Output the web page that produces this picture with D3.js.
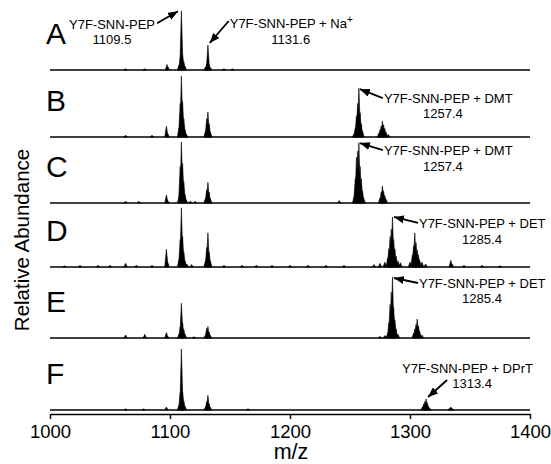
<!DOCTYPE html>
<html>
<head>
<meta charset="utf-8">
<script src="https://cdn.jsdelivr.net/npm/d3@7"></script>
<style>
  html, body { margin: 0; padding: 0; background: #fff; }
  svg { display: block; font-family: "Liberation Sans", Arial, Helvetica, sans-serif; }
</style>
</head>
<body>
<svg id="chart" width="551" height="464"></svg>
<script>
// ---- data -------------------------------------------------------------
const panelIds = ["A", "B", "C", "D", "E", "F"];
const xTicks = [1000, 1100, 1200, 1300, 1400];

// [m/z, relative intensity %] sticks for each spectrum
const peaksA = [
  [1063, 2], [1079, 2], [1097.5, 9], [1098.5, 4],
  [1107.5, 8], [1108.5, 20], [1109.5, 97], [1110.5, 24], [1111.5, 14], [1112.5, 6],
  [1129.6, 5], [1130.6, 10], [1131.6, 41], [1132.6, 9], [1133.6, 4],
  [1145, 2], [1152, 2]
];
const peaksB = [
  [1063, 3], [1085, 3], [1097, 18], [1098, 6],
  [1107.5, 15], [1108.5, 55], [1109.5, 100], [1110.5, 58], [1111.5, 30], [1112.5, 12], [1113.5, 5],
  [1129.6, 10], [1130.6, 30], [1131.6, 41], [1132.6, 22], [1133.6, 8],
  [1253.4, 5], [1254.4, 15], [1255.4, 35], [1256.4, 55], [1257.4, 80], [1258.4, 40], [1259.4, 22], [1260.4, 10],
  [1274, 6], [1275, 12], [1276, 18], [1277, 26], [1278, 20], [1279, 14], [1280, 8], [1282, 4]
];
const peaksC = [
  [1063, 3], [1074, 3], [1097, 13], [1098, 4],
  [1107.5, 10], [1108.5, 60], [1109.5, 100], [1110.5, 65], [1111.5, 35], [1112.5, 14], [1113.5, 5],
  [1117, 3], [1121, 3],
  [1129.6, 8], [1130.6, 22], [1131.6, 34], [1132.6, 18], [1133.6, 7],
  [1241, 4],
  [1253.4, 10], [1254.4, 40], [1255.4, 75], [1256.4, 85], [1257.4, 99], [1258.4, 60], [1259.4, 40], [1260.4, 20], [1261.4, 8],
  [1275, 8], [1276, 18], [1277, 28], [1278, 20], [1279, 12], [1280, 6]
];
const peaksD = [
  [1012, 2], [1025, 3], [1040, 3], [1050, 3], [1063, 6], [1072, 3], [1085, 3],
  [1097, 29], [1098, 8],
  [1107.5, 12], [1108.5, 45], [1109.5, 97], [1110.5, 50], [1111.5, 25], [1112.5, 10], [1114, 5], [1118, 4],
  [1129.6, 10], [1130.6, 32], [1131.6, 56], [1132.6, 25], [1133.6, 10],
  [1145, 3], [1160, 3], [1172, 3], [1185, 3], [1200, 3], [1215, 3], [1230, 3], [1245, 3],
  [1270, 4], [1275, 6], [1279, 8],
  [1281.4, 15], [1282.4, 30], [1283.4, 50], [1284.4, 62], [1285.4, 82], [1286.4, 45], [1287.4, 30], [1288.4, 18], [1290, 10], [1292, 7],
  [1300, 8], [1302, 20], [1303, 35], [1304, 56], [1305, 40], [1306, 28], [1307, 20], [1308, 12], [1310, 8], [1313, 5],
  [1334, 11], [1335, 5], [1345, 3], [1360, 3], [1375, 2]
];
const peaksE = [
  [1063, 5], [1079, 6], [1097, 9], [1098, 3],
  [1107.5, 6], [1108.5, 18], [1109.5, 57], [1110.5, 25], [1111.5, 14], [1112.5, 6],
  [1120, 2],
  [1129.6, 5], [1130.6, 16], [1131.6, 19], [1132.6, 10], [1133.6, 4],
  [1275, 3], [1279, 4],
  [1281.4, 8], [1282.4, 25], [1283.4, 55], [1284.4, 75], [1285.4, 100], [1286.4, 50], [1287.4, 30], [1288.4, 15], [1290, 6],
  [1303, 8], [1304, 15], [1305, 22], [1306, 31], [1307, 20], [1308, 12], [1310, 5]
];
const peaksF = [
  [1063, 2], [1078, 2], [1097, 5],
  [1107.5, 8], [1108.5, 28], [1109.5, 100], [1110.5, 30], [1111.5, 15], [1112.5, 6],
  [1129.6, 5], [1130.6, 14], [1131.6, 24], [1132.6, 10], [1133.6, 4],
  [1165, 2],
  [1310.4, 5], [1311.4, 10], [1312.4, 14], [1313.4, 18], [1314.4, 12], [1315.4, 6], [1316.4, 3],
  [1333, 3], [1334, 5], [1335, 3]
];
const spectra = [peaksA, peaksB, peaksC, peaksD, peaksE, peaksF];

// labelled ions: panel, m/z, label lines
const annPanels = ["A", "A", "B", "C", "D", "E", "F"];
const annMz = [1109.5, 1131.6, 1257.4, 1257.4, 1285.4, 1285.4, 1313.4];
const annNames = ["Y7F-SNN-PEP", "Y7F-SNN-PEP + Na", "Y7F-SNN-PEP + DMT", "Y7F-SNN-PEP + DMT",
                  "Y7F-SNN-PEP + DET", "Y7F-SNN-PEP + DET", "Y7F-SNN-PEP + DPrT"];
const annValues = ["1109.5", "1131.6", "1257.4", "1257.4", "1285.4", "1285.4", "1313.4"];

// ---- layout -----------------------------------------------------------
const svg = d3.select("#chart");
const x = d3.scaleLinear().domain([1000, 1400]).range([50, 530]);
const baseY = { A: 70, B: 137, C: 203, D: 267, E: 338, F: 410 };
const peakPx = 61;          // height of a 100 % peak
const halfWidth = 1.4;      // half base width of a stick, in m/z
const axisY = 414;

const yFor = id => d3.scaleLinear().domain([0, 100]).range([baseY[id], baseY[id] - peakPx]);

// arrow / label placement: head offset from peak top, tail offset from head,
// first label line (offset from tail, anchor), value line centre (offset from tail)
const annLayout = [
  { head: [-3.4, 0.5], tail: [-21, 12], l1: [-2, 6, "end"],  l2: [-45, 21] },
  { head: [1.8, -2],   tail: [19, -22], l1: [1, 7, "start"], l2: [62, 23] },
  { head: [1, 1],      tail: [23, 9],   l1: [1, 5, "start"], l2: [60, 20] },
  { head: [1, 0.5],    tail: [23, 7],   l1: [1, 5, "start"], l2: [60, 21] },
  { head: [1.5, 0],    tail: [24, 6],   l1: [1, 5, "start"], l2: [64, 21] },
  { head: [1.5, 1],    tail: [24, 5],   l1: [1, 5, "start"], l2: [64, 20] },
  { head: [2, -2],     tail: [19, -17], l1: [-45, -7, "start"], l2: [25, 8] }
];

// arrowhead marker
svg.append("defs").append("marker")
  .attr("id", "arrowhead")
  .attr("markerUnits", "userSpaceOnUse")
  .attr("viewBox", "0 0 10 8")
  .attr("refX", 10).attr("refY", 4)
  .attr("markerWidth", 10).attr("markerHeight", 8)
  .attr("orient", "auto")
  .append("path").attr("d", "M0,0 L10,4 L0,8 Z").attr("fill", "#000");

// ---- spectra ----------------------------------------------------------
panelIds.forEach((id, i) => {
  const y = yFor(id);
  const g = svg.append("g").attr("class", "panel panel-" + id);

  // baseline trace
  g.append("line")
    .attr("x1", x(1000)).attr("x2", x(1400))
    .attr("y1", y(0)).attr("y2", y(0))
    .attr("stroke", "#000").attr("stroke-width", id === "D" ? 1.6 : 1.3);

  // sticks drawn as narrow filled peaks
  const path = d3.path();
  spectra[i].forEach(([mz, v]) => {
    path.moveTo(x(mz - halfWidth), y(0));
    path.lineTo(x(mz), y(v));
    path.lineTo(x(mz + halfWidth), y(0));
    path.closePath();
  });
  g.append("path")
    .attr("d", path.toString())
    .attr("fill", "#000").attr("stroke", "#000")
    .attr("stroke-width", 0.6).attr("stroke-linejoin", "miter");

  // panel letter
  g.append("text")
    .attr("x", 46).attr("y", y(0) - 26)
    .attr("font-size", 30).attr("fill", "#000")
    .text(id);
});

// ---- annotations -------------------------------------------------------
annPanels.forEach((id, k) => {
  const y = yFor(id);
  const series = spectra[panelIds.indexOf(id)];
  const hit = series.find(d => d[0] === annMz[k]);
  const L = annLayout[k];
  const hx = x(annMz[k]) + L.head[0], hy = y(hit[1]) + L.head[1];
  const tx = hx + L.tail[0], ty = hy + L.tail[1];

  svg.append("line")
    .attr("x1", tx).attr("y1", ty).attr("x2", hx).attr("y2", hy)
    .attr("stroke", "#000").attr("stroke-width", 1.8)
    .attr("marker-end", "url(#arrowhead)");

  const t1 = svg.append("text")
    .attr("x", tx + L.l1[0]).attr("y", ty + L.l1[1])
    .attr("text-anchor", L.l1[2])
    .attr("font-size", 13).attr("fill", "#000")
    .text(annNames[k]);
  if (annNames[k].endsWith("Na")) {
    t1.append("tspan").attr("dy", -5).attr("font-size", 10).text("+");
  }

  svg.append("text")
    .attr("x", tx + L.l2[0]).attr("y", ty + L.l2[1])
    .attr("text-anchor", "middle")
    .attr("font-size", 13).attr("fill", "#000")
    .text(annValues[k]);
});

// ---- x axis ------------------------------------------------------------
const axis = svg.append("g")
  .attr("transform", `translate(0,${axisY})`)
  .call(d3.axisBottom(x).tickValues(xTicks).tickSize(5).tickSizeOuter(0).tickFormat(d3.format("d")));
axis.select(".domain").attr("stroke", "#000").attr("stroke-width", 1.6);
axis.selectAll(".tick line").attr("stroke", "#000").attr("stroke-width", 1.4);
axis.selectAll(".tick text")
  .attr("font-family", "Liberation Sans, Arial, sans-serif")
  .attr("font-size", 18.5).attr("fill", "#000")
  .attr("y", 11).attr("dy", "0.71em");

svg.append("text")
  .attr("x", 291).attr("y", 459)
  .attr("text-anchor", "middle")
  .attr("font-size", 21.5).attr("fill", "#000")
  .text("m/z");

svg.append("text")
  .attr("transform", "translate(29,240) rotate(-90)")
  .attr("text-anchor", "middle")
  .attr("font-size", 20.5).attr("fill", "#000")
  .text("Relative Abundance");
</script>
</body>
</html>
